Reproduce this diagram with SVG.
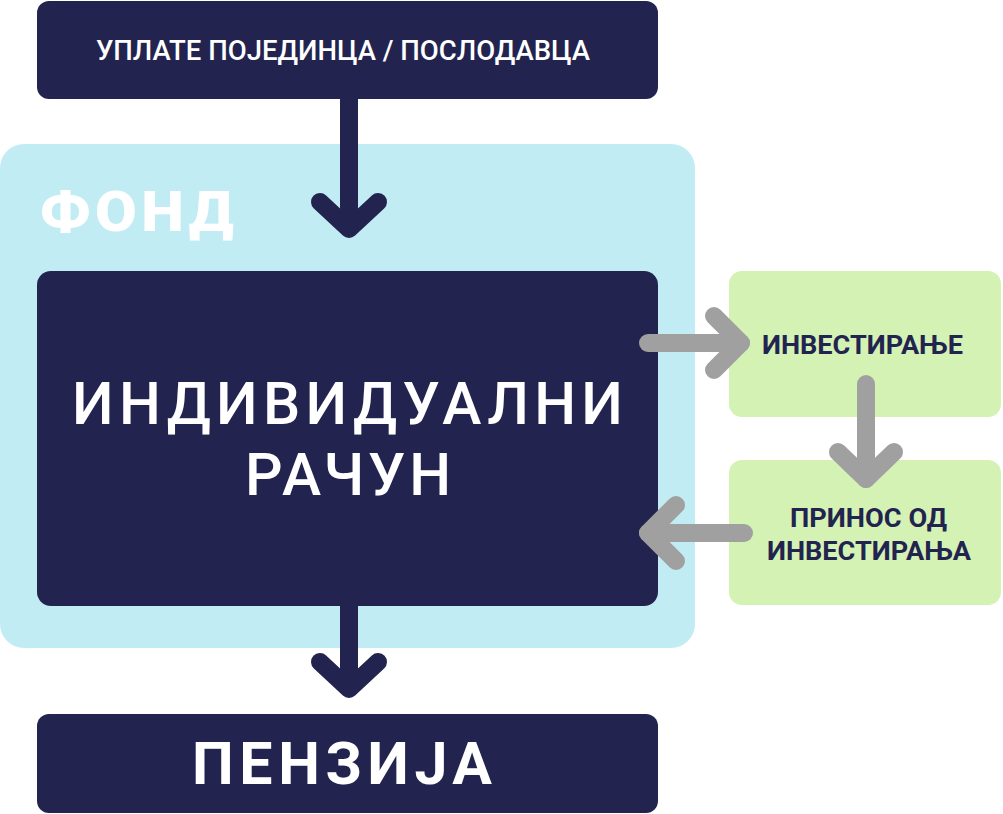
<svg xmlns="http://www.w3.org/2000/svg" width="1003" height="814" viewBox="0 0 1003 814">
<style>
.navy{fill:#22244F}
.fund{fill:#C2ECF3}
.green{fill:#D4F2B4}
.t{font-family:Roboto,"Liberation Sans",sans-serif}
.w{fill:#FFFFFF}
.d{fill:#22244F}
.ln{fill:none;stroke-linecap:round;stroke-linejoin:round}
.dk{stroke:#22244F;stroke-width:18}
.gr{stroke:#A0A0A0;stroke-width:18}
</style>
<rect width="1003" height="814" fill="#FFFFFF"/>
<g id="fund">
<rect class="fund" x="0" y="144" width="695" height="504" rx="24"/>
<text class="t w" x="40" y="231" font-size="56" font-weight="900" letter-spacing="4" textLength="198" lengthAdjust="spacingAndGlyphs">ФОНД</text>
</g>
<g id="contributions">
<rect class="navy" x="37" y="1" width="621" height="98" rx="12"/>
<text class="t w" x="96" y="60" font-size="27" font-weight="500" textLength="494" lengthAdjust="spacingAndGlyphs">УПЛАТЕ ПОЈЕДИНЦА / ПОСЛОДАВЦА</text>
</g>
<g id="account">
<rect class="navy" x="37" y="271" width="621" height="335" rx="14"/>
<text class="t w" x="72" y="424" font-size="59" font-weight="500" textLength="551" lengthAdjust="spacing">ИНДИВИДУАЛНИ</text>
<text class="t w" x="245" y="495" font-size="59" font-weight="500" textLength="206" lengthAdjust="spacing">РАЧУН</text>
</g>
<g id="investing">
<rect class="green" x="729" y="271" width="272" height="146" rx="13"/>
<text class="t d" x="762" y="354" font-size="26" font-weight="700" textLength="201" lengthAdjust="spacingAndGlyphs">ИНВЕСТИРАЊЕ</text>
</g>
<g id="returns">
<rect class="green" x="729" y="460" width="272" height="145" rx="13"/>
<text class="t d" x="790" y="527" font-size="26" font-weight="700" textLength="157" lengthAdjust="spacingAndGlyphs">ПРИНОС ОД</text>
<text class="t d" x="767" y="560" font-size="26" font-weight="700" textLength="204" lengthAdjust="spacingAndGlyphs">ИНВЕСТИРАЊА</text>
</g>
<g id="pension">
<rect class="navy" x="37" y="714" width="621" height="99" rx="12"/>
<text class="t w" x="192" y="784" font-size="59" font-weight="700" textLength="300" lengthAdjust="spacing">ПЕНЗИЈА</text>
</g>
<g id="connectors">
<path class="ln dk" d="M349,95 L349,227" stroke-linecap="butt"/>
<path class="ln dk" d="M320,202 L349,229 L378,202"/>
<path class="ln dk" d="M349,602 L349,687" stroke-linecap="butt"/>
<path class="ln dk" d="M320,662 L349,689 L378,662"/>
<path class="ln gr" d="M648,343 L741,343"/>
<path class="ln gr" d="M714,316 L741,343 L714,370"/>
<path class="ln gr" d="M866,384 L866,479"/>
<path class="ln gr" d="M838,452 L866,479 L894,452"/>
<path class="ln gr" d="M744,533 L648,533"/>
<path class="ln gr" d="M676,505 L648,533 L676,561"/>
</g>
</svg>
